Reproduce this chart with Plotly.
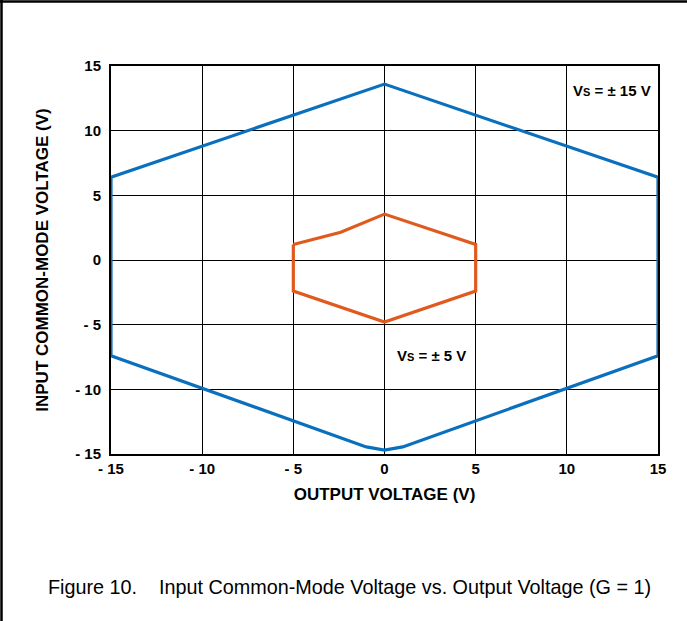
import plotly.graph_objects as go

# Data
vs15_x = [-15, -15, 0, 15, 15, 1, 0, -1, -15]
vs15_y = [-7.4, 6.4, 13.6, 6.4, -7.4, -14.45, -14.7, -14.45, -7.4]

vs5_x = [-5, -2.4, 0, 5, 5, 0, -5, -5]
vs5_y = [1.2, 2.15, 3.55, 1.2, -2.4, -4.8, -2.4, 1.2]

tick_vals = [-15, -10, -5, 0, 5, 10, 15]
tick_text = ["- 15", "- 10", "- 5", "0", "5", "10", "15"]

FONT = "Liberation Sans Narrow, Arial Narrow, Liberation Sans, Arial, sans-serif"

fig = go.Figure()
fig.add_trace(go.Scatter(x=vs15_x, y=vs15_y, mode="lines", cliponaxis=False,
                         line=dict(color="#0A70BE", width=3.2), hoverinfo="skip"))
fig.add_trace(go.Scatter(x=vs5_x, y=vs5_y, mode="lines", cliponaxis=False,
                         line=dict(color="#E05A1E", width=3.2), hoverinfo="skip"))

W, H = 687, 621
L, R, T, B = 111, 658, 66, 454

def px_x(px):
    return (px - L) / (R - L)

def px_y(py):
    return (B - py) / (B - T)

fig.update_layout(
    width=W, height=H,
    margin=dict(l=L, r=W - R, t=T, b=H - B),
    paper_bgcolor="white", plot_bgcolor="white",
    showlegend=False,
    font=dict(family=FONT, color="black"),
    xaxis=dict(range=[-15, 15], tickvals=tick_vals, ticktext=tick_text,
               showgrid=True, gridcolor="black", gridwidth=1.3, layer="below traces",
               zeroline=False, showline=True, linecolor="black", linewidth=2,
               mirror=True, ticks="", tickfont=dict(size=15, family=FONT, weight="bold"),
               title=dict(text="<b>OUTPUT VOLTAGE (V)</b>", font=dict(size=17), standoff=12)),
    yaxis=dict(range=[-15, 15], tickvals=tick_vals, ticktext=tick_text,
               showgrid=True, gridcolor="black", gridwidth=1.3, layer="below traces",
               zeroline=False, showline=True, linecolor="black", linewidth=2,
               mirror=True, ticks="", tickfont=dict(size=15, family=FONT, weight="bold"),
               ticklabelstandoff=5,
               title=dict(text="<b>INPUT COMMON-MODE VOLTAGE (V)</b>", font=dict(size=17), standoff=22)),
    annotations=[
        dict(x=14.7, y=13.1, xref="x", yref="y", text="<b>V<span style='font-size:11px'>S</span> = ± 15 V</b>",
             showarrow=False, xanchor="right", yanchor="middle", font=dict(size=15)),
        dict(x=4.6, y=-7.4, xref="x", yref="y", text="<b>V<span style='font-size:11px'>S</span> = ± 5 V</b>",
             showarrow=False, xanchor="right", yanchor="middle", font=dict(size=15)),
        dict(x=px_x(46), y=px_y(587), xref="paper", yref="paper",
             text="Figure 10.    Input Common-Mode Voltage vs. Output Voltage (G = 1)",
             showarrow=False, xanchor="left", yanchor="middle", font=dict(size=19.8)),
    ],
    shapes=[
        dict(type="line", xref="paper", yref="paper", x0=px_x(0), x1=px_x(W), y0=px_y(1.5), y1=px_y(1.5),
             line=dict(color="black", width=2.5)),
        dict(type="line", xref="paper", yref="paper", x0=px_x(1.5), x1=px_x(1.5), y0=px_y(0), y1=px_y(H),
             line=dict(color="black", width=2.5)),
    ],
)

fig.write_html("out.html")
